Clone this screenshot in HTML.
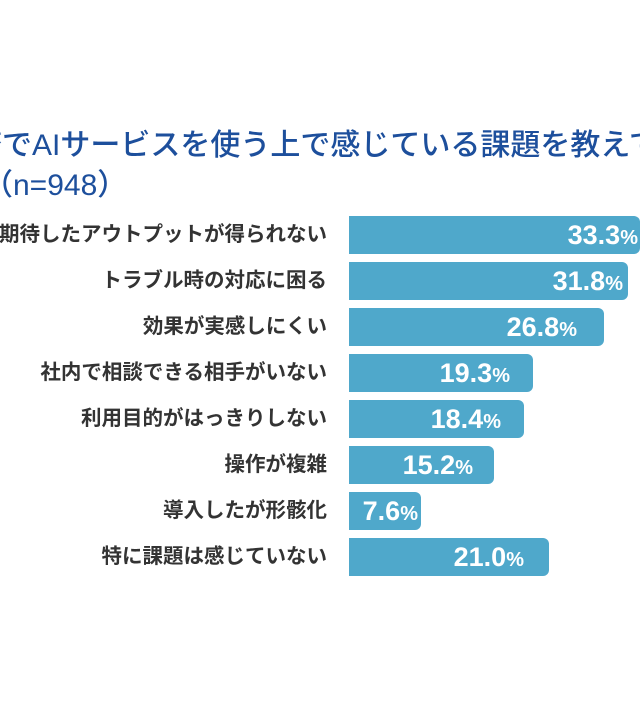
<!DOCTYPE html>
<html><head><meta charset="utf-8"><style>
html,body{margin:0;width:640px;height:720px;overflow:hidden}
body{background:#fff;position:relative;font-family:"Liberation Sans","Noto Sans CJK JP",sans-serif}
.t{position:absolute;color:#1d4f9c;font-size:30px;font-weight:500;white-space:nowrap;line-height:40px}
.l{position:absolute;right:313px;font-size:20.5px;color:#333;font-weight:700;white-space:nowrap;line-height:38px}
.b{position:absolute;left:349px;height:38px;background:#4fa8cb;border-radius:0 6px 6px 0}
.v{position:absolute;color:#fff;font-weight:700;font-size:27px;line-height:38px;white-space:nowrap;text-align:right}
.v small{font-size:20px}
.clip{position:absolute;left:0;top:0;width:640px;height:720px;overflow:hidden}
</style></head><body><div class="clip">
<div class="t" style="left:-28px;top:126px">務でAIサービスを使う上で感じている課題を教えて</div>
<div class="t" style="left:-17px;top:166px">（n=948）</div>
<div class="l" style="top:216px">期待したアウトプットが得られない</div>
<div class="l" style="top:262px">トラブル時の対応に困る</div>
<div class="l" style="top:308px">効果が実感しにくい</div>
<div class="l" style="top:354px">社内で相談できる相手がいない</div>
<div class="l" style="top:400px">利用目的がはっきりしない</div>
<div class="l" style="top:446px">操作が複雑</div>
<div class="l" style="top:492px">導入したが形骸化</div>
<div class="l" style="top:538px">特に課題は感じていない</div>
<div class="b" style="top:216px;width:291px"></div>
<div class="b" style="top:262px;width:279px"></div>
<div class="b" style="top:308px;width:255px"></div>
<div class="b" style="top:354px;width:184px"></div>
<div class="b" style="top:400px;width:175px"></div>
<div class="b" style="top:446px;width:145px"></div>
<div class="b" style="top:492px;width:72px"></div>
<div class="b" style="top:538px;width:200px"></div>
<div class="v" style="top:216px;right:2px">33.3<small>%</small></div>
<div class="v" style="top:262px;right:17px">31.8<small>%</small></div>
<div class="v" style="top:308px;right:63px">26.8<small>%</small></div>
<div class="v" style="top:354px;right:130px">19.3<small>%</small></div>
<div class="v" style="top:400px;right:139px">18.4<small>%</small></div>
<div class="v" style="top:446px;right:167px">15.2<small>%</small></div>
<div class="v" style="top:492px;right:222px">7.6<small>%</small></div>
<div class="v" style="top:538px;right:116px">21.0<small>%</small></div>
</div></body></html>
